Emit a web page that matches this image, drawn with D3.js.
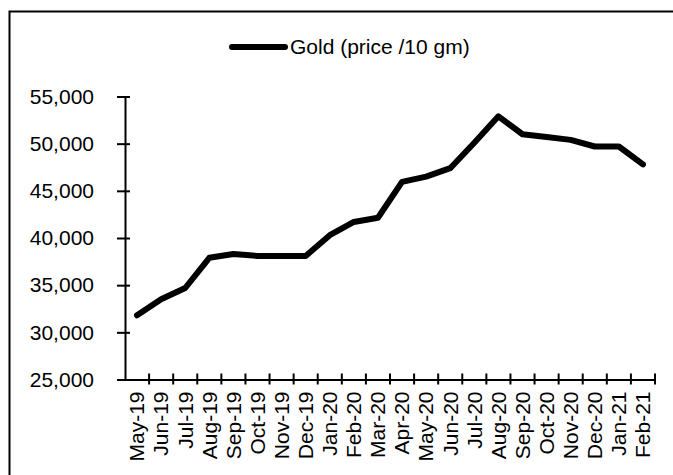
<!DOCTYPE html>
<html>
<head>
<meta charset="utf-8">
<script src="https://cdn.jsdelivr.net/npm/d3@7"></script>
<style>
  html, body { margin: 0; padding: 0; background: #fff; }
  svg { display: block; font-family: Arial, "Liberation Sans", sans-serif; }
</style>
</head>
<body>
<svg id="chart" width="673" height="475"></svg>
<script>
// Monthly gold price (per 10 gm)
const months = ["May-19","Jun-19","Jul-19","Aug-19","Sep-19","Oct-19","Nov-19","Dec-19",
  "Jan-20","Feb-20","Mar-20","Apr-20","May-20","Jun-20","Jul-20","Aug-20",
  "Sep-20","Oct-20","Nov-20","Dec-20","Jan-21","Feb-21"];
const goldPrice = [31800, 33500, 34700, 37900, 38300, 38100, 38100, 38100,
  40300, 41700, 42150, 45950, 46500, 47400, 50100, 52900,
  51000, 50700, 50400, 49700, 49700, 47800];
const yTicks = [25000, 30000, 35000, 40000, 45000, 50000, 55000];
const seriesName = "Gold (price /10 gm)";

const FONT = "Arial, 'Liberation Sans', sans-serif";
const svg = d3.select("#chart");

// outer frame
svg.append("rect")
  .attr("x", 9.5).attr("y", 11.5)
  .attr("width", 700).attr("height", 500)
  .attr("fill", "none").attr("stroke", "#000").attr("stroke-width", 2);

const x = d3.scaleBand().domain(months).range([125, 655]);
const y = d3.scaleLinear().domain([25000, 55000]).range([379.5, 96.5]);

// y axis
const yAxis = svg.append("g")
  .attr("transform", "translate(125,0)")
  .call(d3.axisLeft(y).tickValues(yTicks).tickFormat(d3.format(",")).tickSizeOuter(0).tickPadding(25));
yAxis.select(".domain").attr("stroke", "#000").attr("stroke-width", 2);
yAxis.selectAll(".tick line").attr("x1", -8).attr("x2", 5).attr("stroke", "#000").attr("stroke-width", 2);
yAxis.selectAll(".tick text").attr("font-size", 21).attr("fill", "#000").attr("font-family", FONT);

// x axis
const xAxis = svg.append("g")
  .attr("transform", `translate(0,${y(25000)})`)
  .call(d3.axisBottom(x).tickSize(0).tickSizeOuter(0).tickPadding(0));
xAxis.select(".domain").attr("stroke", "#000").attr("stroke-width", 2);
xAxis.selectAll(".tick text")
  .attr("font-size", 21).attr("fill", "#000").attr("font-family", FONT)
  .attr("text-anchor", "end")
  .attr("transform", "rotate(-90)")
  .attr("x", -12).attr("y", 0).attr("dy", "0.35em");

// tick marks at category boundaries
const bounds = months.map(m => x(m)).concat([x.range()[1]]);
svg.append("g").selectAll("line")
  .data(bounds.slice(1))
  .join("line")
  .attr("x1", d => d).attr("x2", d => d)
  .attr("y1", y(25000) - 6).attr("y2", y(25000) + 5)
  .attr("stroke", "#000").attr("stroke-width", 2);

// price line
const line = d3.line()
  .x((d, i) => x(months[i]) + x.bandwidth() / 2)
  .y(d => y(d));
svg.append("path")
  .datum(goldPrice)
  .attr("d", line)
  .attr("fill", "none")
  .attr("stroke", "#000")
  .attr("stroke-width", 6)
  .attr("stroke-linejoin", "round")
  .attr("stroke-linecap", "round");

// legend
const legend = svg.append("g").attr("transform", "translate(232,47)");
legend.append("line")
  .attr("x1", 0).attr("x2", 53).attr("y1", 0).attr("y2", 0)
  .attr("stroke", "#000").attr("stroke-width", 6).attr("stroke-linecap", "round");
legend.append("text")
  .attr("x", 58).attr("y", 0).attr("dy", "0.35em")
  .attr("font-size", 21).attr("fill", "#000").attr("font-family", FONT)
  .text(seriesName);
</script>
</body>
</html>
